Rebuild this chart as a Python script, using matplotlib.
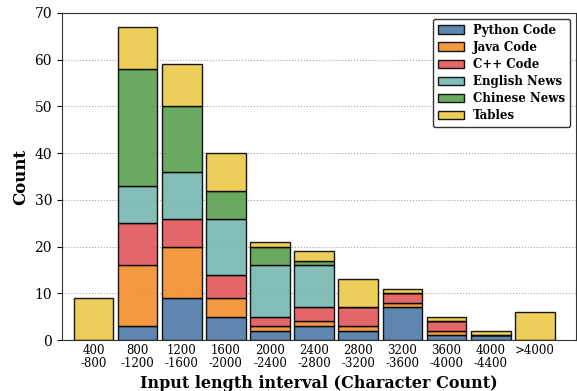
import numpy as np
import matplotlib
matplotlib.use("Agg")
from matplotlib import pyplot as plt

plt.rcParams['font.family'] = ['DejaVu Serif']

intervals = ['400\n-800', '800\n-1200', '1200\n-1600', '1600\n-2000', '2000\n-2400',
             '2400\n-2800', '2800\n-3200', '3200\n-3600', '3600\n-4000', '4000\n-4400', '>4000']

python_code = np.array([0, 3, 9, 5, 2, 3, 2, 7, 1, 1, 0])
java_code = np.array([0, 13, 11, 4, 1, 1, 1, 1, 1, 0, 0])
cpp_code = np.array([0, 9, 6, 5, 2, 3, 4, 2, 2, 0, 0])
english_news = np.array([0, 8, 10, 12, 11, 9, 0, 0, 0, 0, 0])
chinese_news = np.array([0, 25, 14, 6, 4, 1, 0, 0, 0, 0, 0])
tables = np.array([9, 9, 9, 8, 1, 2, 6, 1, 1, 1, 6])

series = [python_code, java_code, cpp_code, english_news, chinese_news, tables]
names = ['Python Code', 'Java Code', 'C++ Code', 'English News', 'Chinese News', 'Tables']
colors = ['#4e79a7', '#f28e2b', '#e15759', '#76b7b2', '#59a14f', '#edc948']

fig, ax = plt.subplots(figsize=(5.77, 3.91), dpi=100)
fig.subplots_adjust(left=0.107, right=0.998, top=0.967, bottom=0.13)

ind = np.arange(len(intervals))
bottom = np.zeros(len(intervals))
for vals, name, c in zip(series, names, colors):
    ax.bar(ind, vals, 0.9, bottom=bottom, color=c, alpha=0.9,
           edgecolor='black', linewidth=1.0, label=name, zorder=3)
    bottom = bottom + vals

ax.set_xticks(ind)
ax.set_xticklabels(intervals, fontsize=8.5, linespacing=1.0)
ax.tick_params(axis='x', length=0, pad=3)
ax.set_xlim(-0.72, 10.93)
ax.set_ylim(0, 70)
ax.set_yticks(np.arange(0, 71, 10))
ax.tick_params(axis='y', labelsize=10)
ax.yaxis.grid(True, linestyle=':', color='gray', alpha=0.7, zorder=0)
ax.set_ylabel('Count', fontsize=12, fontweight='bold')
ax.set_xlabel('Input length interval (Character Count)', fontsize=11.5, fontweight='bold', labelpad=3)
for s in ax.spines.values():
    s.set_color('#333333')

ax.legend(loc='upper right', prop={'weight': 'bold', 'size': 8.5}, framealpha=1,
          edgecolor='#333333', fancybox=True, handlelength=2.2, labelspacing=0.35,
          borderpad=0.4)

plt.savefig('out.png', dpi=100)
